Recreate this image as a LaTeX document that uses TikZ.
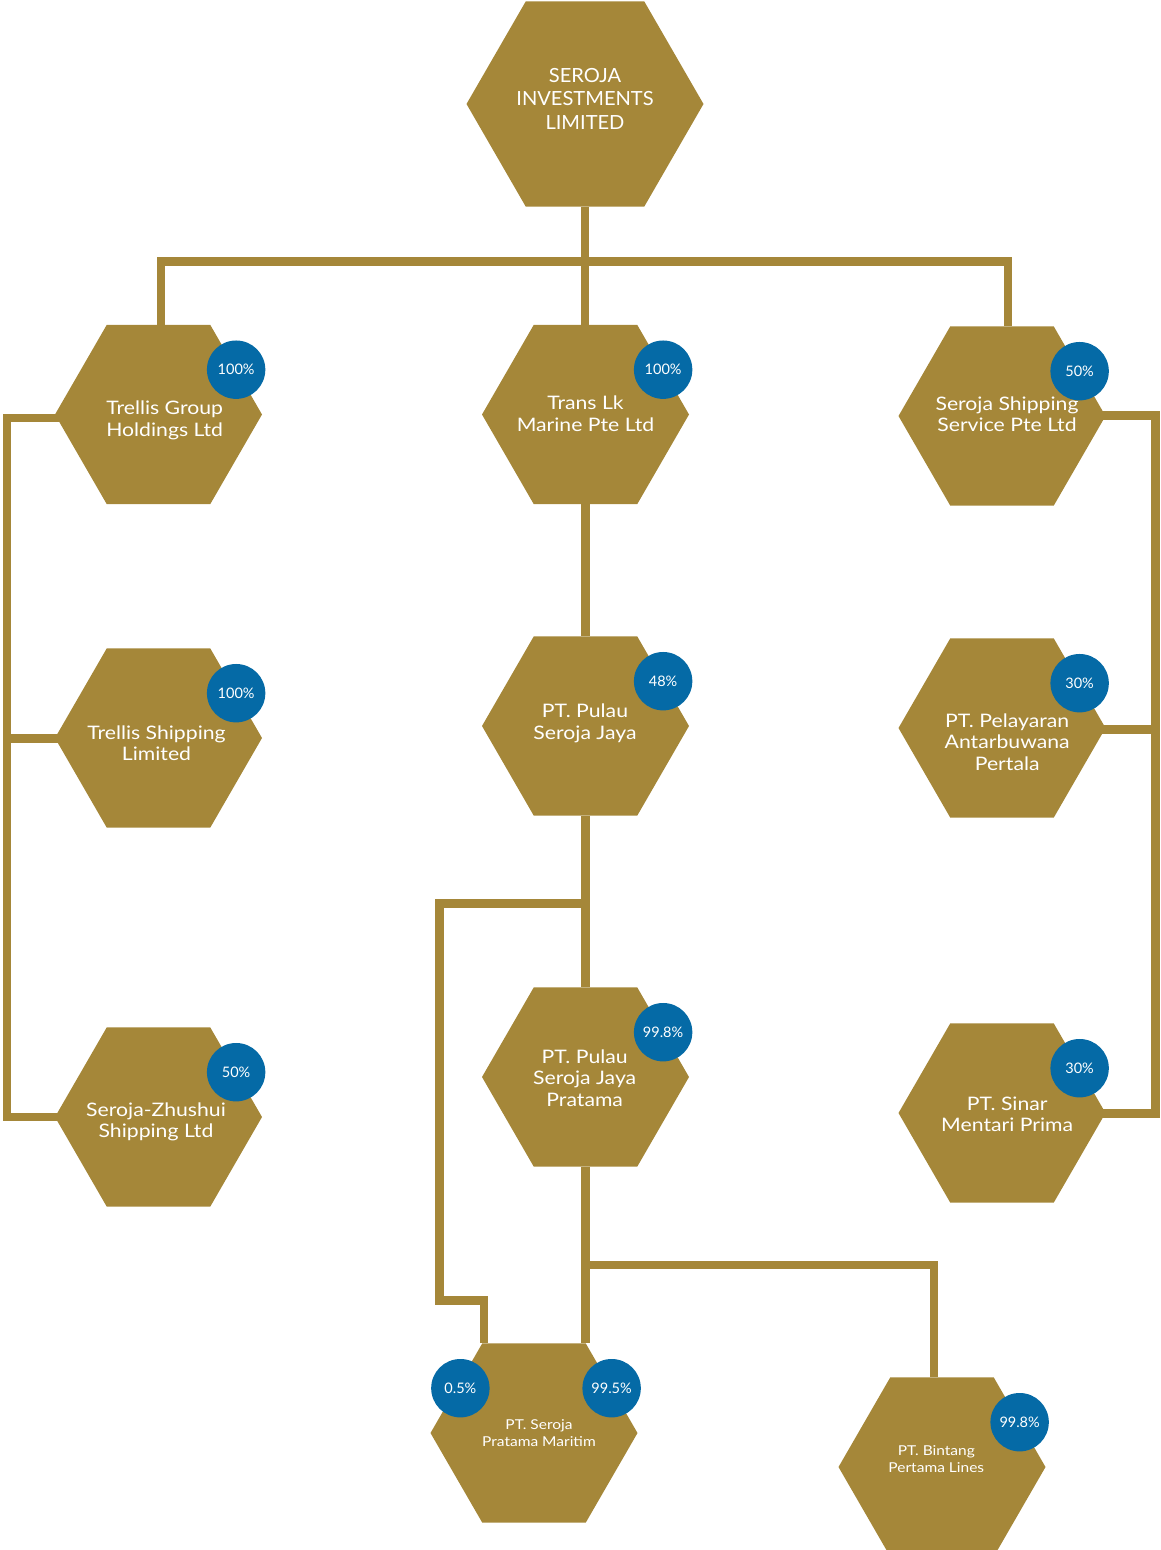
\documentclass[tikz,border=0pt]{standalone}
\usepackage{fontspec}
\setmainfont{Lato}
\newfontfamily\latow[FakeStretch=1.14]{Lato}
\newfontfamily\latot[FakeStretch=1.03]{Lato}
\usetikzlibrary{shapes.geometric,calc,backgrounds}
\definecolor{gold}{RGB}{165,135,57}
\definecolor{pblue}{RGB}{5,106,166}
\begin{document}
\begin{tikzpicture}[x=1pt,y=-1pt,
  hex/.style={regular polygon, regular polygon sides=6,
    minimum size=207pt, inner sep=0pt, outer sep=0pt, fill=gold},
  pct/.style={circle, fill=pblue, minimum size=58.4pt, inner sep=0pt, text=white,
    font=\fontsize{14.5}{16}\selectfont},
  txt/.style={text=white, align=center, inner sep=0pt, anchor=base,
    font=\latow\fontsize{18.6}{21.3}\selectfont},
  stxt/.style={txt, font=\latow\fontsize{13.6}{17.5}\selectfont},
  link/.style={draw=gold, line width=8.6pt}]
\useasboundingbox (0,0) rectangle (1161,1550);
\clip (0,0) rectangle (1161,1550);

% hexagons
\node[hex, minimum size=237pt] (top) at (585,104) {};
\node[hex] (tg) at (158.5,414.5) {};
\node[hex] (tl) at (585.5,414.5) {};
\node[hex] (ss) at (1002,416) {};
\node[hex] (ts) at (158.5,738) {};
\node[hex] (pj) at (585.5,726) {};
\node[hex] (pa) at (1002,728) {};
\node[hex] (sz) at (158.5,1117) {};
\node[hex] (pr) at (585.5,1077) {};
\node[hex] (sm) at (1002,1113) {};
\node[hex] (ma) at (534,1433) {};
\node[hex] (bi) at (942,1467) {};

% texts (anchored at the baseline of the last line)
\node[txt, font=\latot\fontsize{19.5}{23.5}\selectfont] (top-t) at (585,129) {SEROJA\\INVESTMENTS\\LIMITED};
\node[txt] (tg-t) at (164.7,436) {Trellis Group\\Holdings Ltd};
\node[txt] (tl-t) at (585.5,431) {Trans Lk\\Marine Pte Ltd};
\node[txt] (ss-t) at (1007,431.7) {Seroja Shipping\\Service Pte Ltd};
\node[txt] (ts-t) at (156.5,760.7) {Trellis Shipping\\Limited};
\node[txt] (pj-t) at (585,739) {PT. Pulau\\Seroja Jaya};
\node[txt] (pa-t) at (1007.2,770) {PT. Pelayaran\\Antarbuwana\\Pertala};
\node[txt] (sz-t) at (156,1137.3) {Seroja-Zhushui\\Shipping Ltd};
\node[txt] (pr-t) at (584.7,1106) {PT. Pulau\\Seroja Jaya\\Pratama};
\node[txt] (sm-t) at (1007.2,1131.7) {PT. Sinar\\Mentari Prima};
\node[stxt] (ma-t) at (539,1446.7) {PT. Seroja\\Pratama Maritim};
\node[stxt] (bi-t) at (936.3,1472.7) {PT. Bintang\\Pertama Lines};

% percentages (on the upper-right edge: corners 6 and 1)
\node[pct] (tg-p) at ($(tg.corner 6)!0.5!(tg.corner 1)$) {100\%};
\node[pct] (tl-p) at ($(tl.corner 6)!0.5!(tl.corner 1)$) {100\%};
\node[pct] (ss-p) at ($(ss.corner 6)!0.5!(ss.corner 1)$) {50\%};
\node[pct] (ts-p) at ($(ts.corner 6)!0.5!(ts.corner 1)$) {100\%};
\node[pct] (pj-p) at ($(pj.corner 6)!0.5!(pj.corner 1)$) {48\%};
\node[pct] (pa-p) at ($(pa.corner 6)!0.5!(pa.corner 1)$) {30\%};
\node[pct] (sz-p) at ($(sz.corner 6)!0.5!(sz.corner 1)$) {50\%};
\node[pct] (pr-p) at ($(pr.corner 6)!0.5!(pr.corner 1)$) {99.8\%};
\node[pct] (sm-p) at ($(sm.corner 6)!0.5!(sm.corner 1)$) {30\%};
\node[pct] (ma-pl) at ([xshift=4pt]$(ma.corner 2)!0.5!(ma.corner 3)$) {0.5\%};
\node[pct] (ma-pr) at ($(ma.corner 6)!0.5!(ma.corner 1)$) {99.5\%};
\node[pct] (bi-p) at ($(bi.corner 6)!0.5!(bi.corner 1)$) {99.8\%};

% connectors
\coordinate (bus) at (585,261.5);
\coordinate (lrail) at (7,0);
\coordinate (rrail) at (1155.5,0);
\coordinate (jb) at (585.5,903.3);
\coordinate (mb) at (439.5,1300.5);
\coordinate (pb) at (585.5,1265);
\coordinate (tgl) at ([xshift=10pt,yshift=-3.5pt]tg.corner 3);
\coordinate (tsl) at ([xshift=10pt,yshift=-0.7pt]ts.corner 3);
\coordinate (szl) at ([xshift=10pt]sz.corner 3);
\coordinate (ssr) at ([xshift=-10pt,yshift=0.7pt]ss.corner 6);
\coordinate (par) at ([xshift=-10pt,yshift=-1.7pt]pa.corner 6);
\coordinate (smr) at ([xshift=-10pt,yshift=-0.7pt]sm.corner 6);
\begin{scope}[on background layer]
  \draw[link] (top.south) -- (top.south |- tl.north);
  \draw[link] ([xshift=2.5pt]tg.north) |- (bus) -| ([xshift=6pt]ss.north);
  \draw[link] (tgl) -| (lrail |- szl) -- (szl);
  \draw[link] (tsl) -- (lrail |- tsl);
  \draw[link] (tl.south) -- (pj.north);
  \draw[link] (pj.south) -- (pr.north);
  \draw[link] (jb) -| (mb) -| ([xshift=-50pt]ma.north);
  \draw[link] (pr.south) -- (pr.south |- ma.north);
  \draw[link] (pb) -| ([xshift=-8pt]bi.north);
  \draw[link] (ssr) -| (rrail |- smr) -- (smr);
  \draw[link] (par) -- (rrail |- par);
\end{scope}
\end{tikzpicture}
\end{document}
